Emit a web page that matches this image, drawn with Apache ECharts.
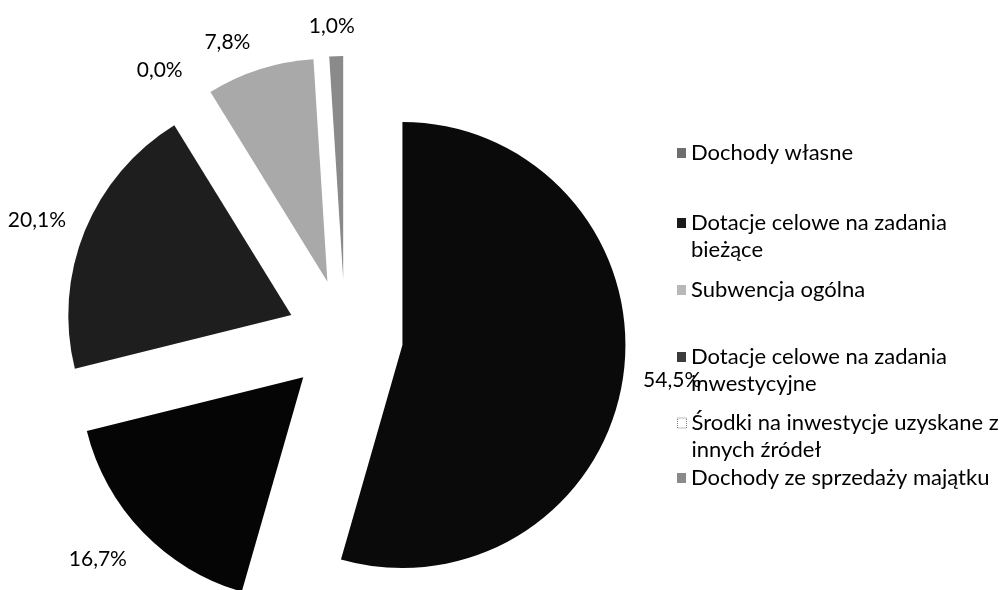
<!DOCTYPE html>
<html>
<head>
<meta charset="utf-8">
<script src="https://cdn.jsdelivr.net/npm/echarts@6/dist/echarts.min.js"></script>
<style>
html, body { margin: 0; background: #fff; }
#main { width: 1001px; height: 590px; }
</style>
</head>
<body>
<div id="main"></div>
<script>
// struktura dochodow (%)
var names = ['Dochody własne', 'Dotacje celowe na zadania bieżące', 'Subwencja ogólna',
    'Dotacje celowe na zadania inwestycyjne', 'Środki na inwestycje uzyskane z innych źródeł',
    'Dochody ze sprzedaży majątku'];
var values = [54.5, 16.7, 20.1, 0.0, 7.8, 1.0];
// podpisy legendy z podzialem wierszy
var legendText = ['Dochody własne', 'Dotacje celowe na zadania\nbieżące', 'Subwencja ogólna',
    'Dotacje celowe na zadania\ninwestycyjne', 'Środki na inwestycje uzyskane z\ninnych źródeł',
    'Dochody ze sprzedaży majątku'];

var colors = ['#0a0a0a', '#050505', '#1e1e1e', '#4a4a4a', '#a9a9a9', '#8a8a8a'];
var iconColors = ['#6e6e6e', '#1a1a1a', '#b8b8b8', '#3c3c3c', '#ffffff', '#8a8a8a'];
var legendY = [153, 223, 290, 357, 423, 478];   // srodek pierwszej linii
var labelShift = [[0, 2], [0, 17], [0, -5], [-2, -15], [0, -13], [24, -15]];
var lineH = 27;
var font = 'Lato';

var chart = echarts.init(document.getElementById('main'));

var legends = names.map(function (n, i) {
    var multi = legendText[i].indexOf('\n') >= 0;
    return {
        orient: 'vertical',
        left: 677,
        top: legendY[i] - lineH / 2 - (multi ? lineH : 0),
        padding: 0,
        icon: 'rect',
        itemWidth: 9,
        itemHeight: 10,
        selectedMode: false,
        data: [{
            name: n,
            itemStyle: {
                color: iconColors[i],
                borderColor: i == 4 ? '#777' : iconColors[i],
                borderWidth: i == 4 ? 1 : 0,
                borderType: 'dotted'
            }
        }],
        formatter: function (name) {
            var t = legendText[names.indexOf(name)];
            return t.indexOf('\n') >= 0 ? '\n' + t : t;
        },
        textStyle: {
            fontFamily: font,
            fontSize: 22,
            lineHeight: lineH,
            color: '#000'
        }
    };
});

chart.setOption({
    backgroundColor: '#fff',
    animation: false,
    legend: legends,
    series: [{
        type: 'pie',
        center: [345, 337],
        radius: 223,
        startAngle: 90,
        clockwise: true,
        selectedMode: 'multiple',
        selectedOffset: 58,
        avoidLabelOverlap: false,
        label: {
            position: 'outside',
            fontFamily: font,
            fontSize: 21,
            color: '#000',
            formatter: function (p) {
                return p.value.toFixed(1).replace('.', ',') + '%';
            }
        },
        labelLine: { show: false, length: 15, length2: 0 },
        labelLayout: function (p) {
            var s = labelShift[p.dataIndex];
            return { dx: s[0], dy: s[1] };
        },
        itemStyle: { borderWidth: 0 },
        emphasis: { disabled: true },
        data: names.map(function (n, i) {
            return { name: n, value: values[i], selected: true, itemStyle: { color: colors[i] } };
        })
    }]
});
</script>
</body>
</html>
